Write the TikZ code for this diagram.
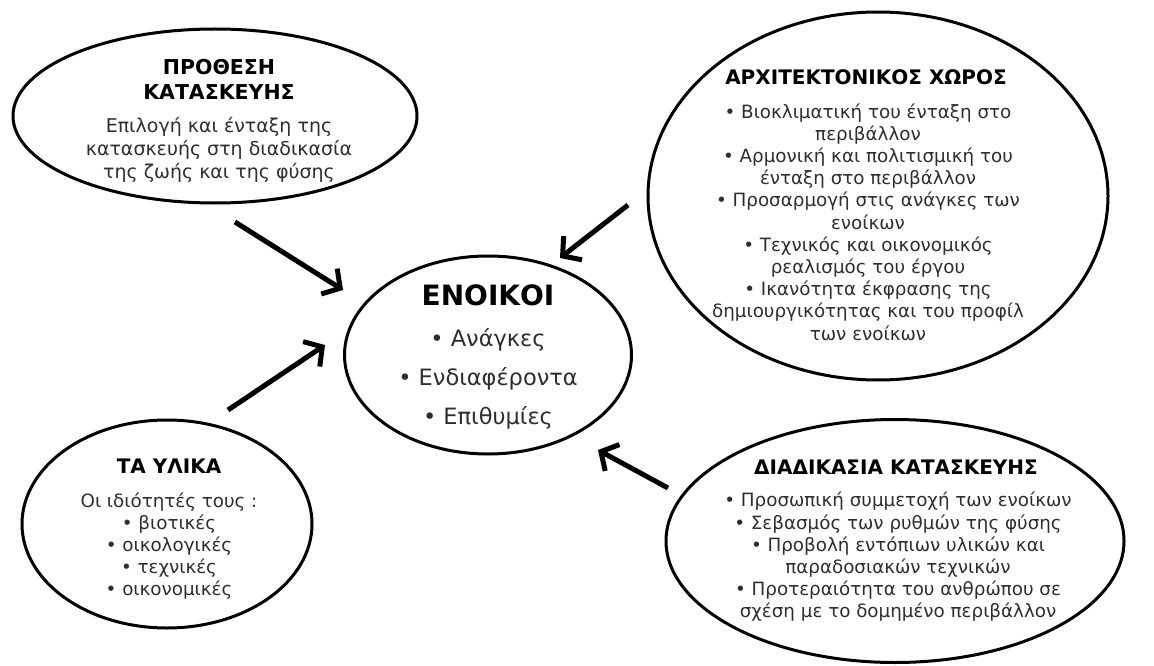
\documentclass[tikz,border=0pt]{standalone}
\usepackage{fontspec}
\setmainfont{DejaVu Sans}
\usetikzlibrary{shapes.geometric,arrows.meta}
\definecolor{bodytext}{HTML}{2E2E2E}
\tikzset{
  bubble/.style={draw=black, ellipse, line width=3pt, inner sep=0pt},
  ttl/.style={font=\bfseries\fontsize{20}{25}\selectfont, align=center, text=black, inner sep=0pt},
  body/.style={font=\fontsize{18.3}{22.2}\selectfont, align=center, text=bodytext, inner sep=0pt},
  arr/.style={line width=5pt, -{Straight Barb[length=13pt,width=30pt]}}
}
\begin{document}
\begin{tikzpicture}[x=1pt,y=-1pt]
\useasboundingbox (0,0) rectangle (1154,666);

% outlines of the five bubbles
\node[bubble, minimum width=404pt, minimum height=174pt] (e1) at (215,116) {};
\node[bubble, minimum width=460pt, minimum height=368pt] (e2) at (878,196) {};
\node[bubble, minimum width=287pt, minimum height=198pt] (e3) at (488,355) {};
\node[bubble, minimum width=290pt, minimum height=208pt] (e4) at (167,524) {};
\node[bubble, minimum width=458pt, minimum height=243pt] (e5) at (895,541) {};

% ΠΡΟΘΕΣΗ ΚΑΤΑΣΚΕΥΗΣ
\node[ttl, font=\bfseries\fontsize{20.5}{25}\selectfont] (t1) at (219,79) {ΠΡΟΘΕΣΗ\\ΚΑΤΑΣΚΕΥΗΣ};
\node[body, font=\fontsize{19}{23}\selectfont] (b1) at (219,150) {Επιλογή και ένταξη της\\κατασκευής στη διαδικασία\\της ζωής και της φύσης};

% ΑΡΧΙΤΕΚΤΟΝΙΚΟΣ ΧΩΡΟΣ
\node[ttl] (t2) at (866,77) {ΑΡΧΙΤΕΚΤΟΝΙΚΟΣ ΧΩΡΟΣ};
\node[body] (b2) at (868,222) {• Βιοκλιματική του ένταξη στο\\περιβάλλον\\• Αρμονική και πολιτισμική του\\ένταξη στο περιβάλλον\\• Προσαρμογή στις ανάγκες των\\ενοίκων\\• Τεχνικός και οικονομικός\\ρεαλισμός του έργου\\• Ικανότητα έκφρασης της\\δημιουργικότητας και του προφίλ\\των ενοίκων};

% ΕΝΟΙΚΟΙ
\node[ttl, font=\bfseries\fontsize{28}{32}\selectfont] (t3) at (488,295) {ΕΝΟΙΚΟΙ};
\node[body, font=\fontsize{22.5}{39}\selectfont] (b3) at (488,379) {• Ανάγκες\\• Ενδιαφέροντα\\• Επιθυμίες};

% ΤΑ ΥΛΙΚΑ
\node[ttl] (t4) at (169,466) {ΤΑ ΥΛΙΚΑ};
\node[body] (b4) at (169,546) {Οι ιδιότητές τους :\\• βιοτικές\\• οικολογικές\\• τεχνικές\\• οικονομικές};

% ΔΙΑΔΙΚΑΣΙΑ ΚΑΤΑΣΚΕΥΗΣ
\node[ttl] (t5) at (896,467) {ΔΙΑΔΙΚΑΣΙΑ ΚΑΤΑΣΚΕΥΗΣ};
\node[body] (b5) at (898,557) {• Προσωπική συμμετοχή των ενοίκων\\• Σεβασμός των ρυθμών της φύσης\\• Προβολή εντόπιων υλικών και\\παραδοσιακών τεχνικών\\• Προτεραιότητα του ανθρώπου σε\\σχέση με το δομημένο περιβάλλον};

% arrow ends
\coordinate (a1s) at (235,222); \coordinate (a1e) at (343,290);
\coordinate (a2s) at (628,205); \coordinate (a2e) at (560,258);
\coordinate (a3s) at (228,410); \coordinate (a3e) at (325,345);
\coordinate (a4s) at (668,488); \coordinate (a4e) at (598,450);

\draw[arr] (a1s) -- (a1e);
\draw[arr] (a2s) -- (a2e);
\draw[arr] (a3s) -- (a3e);
\draw[arr] (a4s) -- (a4e);
\end{tikzpicture}
\end{document}
